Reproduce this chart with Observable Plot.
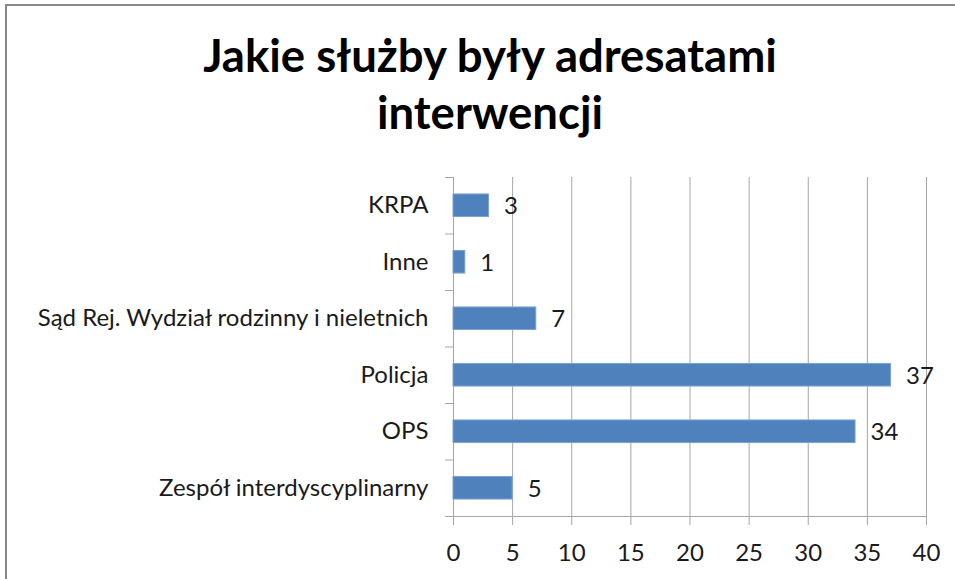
<!DOCTYPE html>
<html>
<head>
<meta charset="utf-8">
<script src="https://cdn.jsdelivr.net/npm/d3@7"></script>
<script src="https://cdn.jsdelivr.net/npm/@observablehq/plot@0.6"></script>
<style>
  html, body { margin: 0; padding: 0; background: #fff; }
  #wrap { position: relative; width: 955px; height: 579px; overflow: hidden; background: #fff; }
  #frame { position: absolute; left: 5px; top: 4px; width: 1200px; height: 1200px;
           border-top: 2px solid #888; border-left: 2px solid #888; box-sizing: border-box; }
  #title { position: absolute; left: 5px; width: 970px; top: 26px; text-align: center;
           font-family: Lato, sans-serif; font-weight: bold; font-size: 45.5px; line-height: 57px; color: #000; }
  #chart { position: absolute; left: 0; top: 170px; }
</style>
</head>
<body>
<div id="wrap">
  <div id="frame"></div>
  <div id="title">Jakie służby były adresatami<br>interwencji</div>
  <div id="chart"></div>
</div>
<script>
const categories = ["KRPA", "Inne", "Sąd Rej. Wydział rodzinny i nieletnich", "Policja", "OPS", "Zespół interdyscyplinarny"];
const values = [3, 1, 7, 37, 34, 5];
const xTicks = [0, 5, 10, 15, 20, 25, 30, 35, 40];

const data = categories.map((c, i) => ({category: c, value: values[i], index: i}));
const gridColor = "#a6a6a6";
const textColor = "#1a1a1a";

const chart = Plot.plot({
  width: 955,
  height: 409,
  marginTop: 7,
  marginBottom: 63,
  marginLeft: 453,
  marginRight: 29,
  style: {fontFamily: "Lato, sans-serif", fontSize: "24px", color: textColor, background: "transparent", overflow: "visible"},
  x: {domain: [0, 40]},
  y: {domain: [categories.length, 0]},
  marks: [
    Plot.gridX(xTicks, {stroke: gridColor, strokeOpacity: 1}),
    Plot.ruleY([categories.length], {stroke: gridColor}),
    Plot.rectX(data, {x1: 0, x2: "value", y1: d => d.index + 0.3, y2: d => d.index + 0.7, fill: "#4F81BD", stroke: "#7ba2d3", strokeWidth: 1}),
    Plot.axisX({ticks: xTicks, tickSize: 9, tickPadding: 18, label: null, stroke: gridColor, fill: textColor, fontSize: 24}),
    Plot.axisY({ticks: d3.range(categories.length + 1), tickSize: 8, tickFormat: () => "", label: null, stroke: gridColor}),
    Plot.axisY({ticks: categories.map((_, i) => i + 0.5), tickSize: 0, tickPadding: 25, label: null, tickFormat: t => categories[Math.floor(t)], fill: textColor, fontSize: 24}),
    Plot.text(data, {x: "value", y: d => d.index + 0.5, text: d => String(d.value), dx: 15, dy: 1, textAnchor: "start", fontSize: 24, fill: textColor})
  ]
});
document.getElementById("chart").appendChild(chart);
</script>
</body>
</html>
